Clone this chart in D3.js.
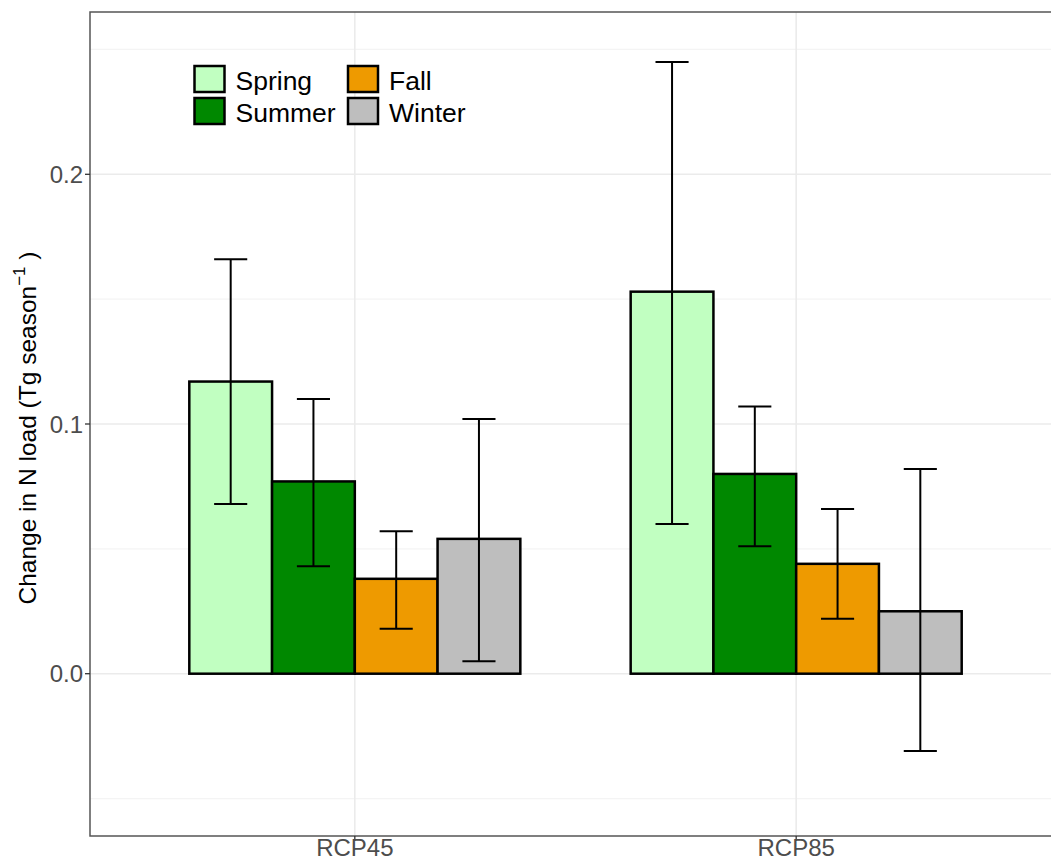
<!DOCTYPE html>
<html><head><meta charset="utf-8">
<script src="https://cdn.jsdelivr.net/npm/d3@7"></script>
<style>body{margin:0;background:#fff}svg{display:block;font-family:"Liberation Sans",Arial,sans-serif}</style>
</head><body><svg id="c" width="1051" height="863"></svg>
<script>
const scenarios = ["RCP45", "RCP85"];
const seasons = ["Spring", "Summer", "Fall", "Winter"];
const colors = ["#c1ffc1", "#008800", "#ee9a00", "#bebebe"];
const means = { RCP45: [0.117, 0.077, 0.038, 0.054], RCP85: [0.153, 0.080, 0.044, 0.025] };
const lows  = { RCP45: [0.068, 0.043, 0.018, 0.005], RCP85: [0.060, 0.051, 0.022, -0.031] };
const highs = { RCP45: [0.166, 0.110, 0.057, 0.102], RCP85: [0.245, 0.107, 0.066, 0.082] };
const yTicks = [0.0, 0.1, 0.2];
const yMinor = [-0.05, 0.05, 0.15, 0.25];

const svg = d3.select("#c");
const L = 90, T = 12, B = 836, R = 1061;
const x = d3.scaleLinear().domain([0.4, 2.6]).range([L, R]);
const y = d3.scaleLinear().domain([-0.065, 0.265]).range([B, T]);
const g = svg.append("g");
g.append("rect").attr("x", L).attr("y", T).attr("width", R - L).attr("height", B - T).attr("fill", "#fff");
// grid
g.selectAll(".mn").data(yMinor).join("line").attr("x1", L).attr("x2", R)
  .attr("y1", d => y(d)).attr("y2", d => y(d)).attr("stroke", "#f4f4f4").attr("stroke-width", 1.2);
g.selectAll(".mj").data(yTicks).join("line").attr("x1", L).attr("x2", R)
  .attr("y1", d => y(d)).attr("y2", d => y(d)).attr("stroke", "#ebebeb").attr("stroke-width", 1.6);
g.selectAll(".vx").data(scenarios).join("line").attr("y1", T).attr("y2", B)
  .attr("x1", (d, i) => x(i + 1)).attr("x2", (d, i) => x(i + 1)).attr("stroke", "#ebebeb").attr("stroke-width", 1.6);

const bw = 0.75 / 4;
scenarios.forEach((s, i) => {
  seasons.forEach((se, j) => {
    const cx = i + 1 - 0.375 + bw * (j + 0.5);
    const v = means[s][j];
    g.append("rect").attr("x", x(cx - bw / 2)).attr("width", x(cx + bw / 2) - x(cx - bw / 2))
      .attr("y", y(Math.max(v, 0))).attr("height", Math.abs(y(v) - y(0)))
      .attr("fill", colors[j]).attr("stroke", "#000").attr("stroke-width", 2.5);
  });
});
scenarios.forEach((s, i) => {
  seasons.forEach((se, j) => {
    const cx = i + 1 - 0.375 + bw * (j + 0.5);
    const hw = bw * 0.2;
    const lo = lows[s][j], hi = highs[s][j];
    const eg = g.append("g").attr("stroke", "#000").attr("stroke-width", 2);
    eg.append("line").attr("x1", x(cx)).attr("x2", x(cx)).attr("y1", y(lo)).attr("y2", y(hi));
    eg.append("line").attr("x1", x(cx - hw)).attr("x2", x(cx + hw)).attr("y1", y(lo)).attr("y2", y(lo));
    eg.append("line").attr("x1", x(cx - hw)).attr("x2", x(cx + hw)).attr("y1", y(hi)).attr("y2", y(hi));
  });
});
// border
g.append("rect").attr("x", L).attr("y", T).attr("width", R - L).attr("height", B - T)
  .attr("fill", "none").attr("stroke", "#555").attr("stroke-width", 1.5);

// y axis ticks
g.selectAll(".yt").data(yTicks).join("line").attr("x1", L - 5).attr("x2", L)
  .attr("y1", d => y(d)).attr("y2", d => y(d)).attr("stroke", "#333").attr("stroke-width", 1.3);
g.selectAll(".yl").data(yTicks).join("text").attr("x", 83).attr("y", d => y(d)).attr("dy", "0.36em")
  .attr("text-anchor", "end").attr("font-size", 24).attr("fill", "#4d4d4d").text(d => d.toFixed(1));
// x axis ticks
g.selectAll(".xt").data(scenarios).join("line").attr("y1", B).attr("y2", B + 5)
  .attr("x1", (d, i) => x(i + 1)).attr("x2", (d, i) => x(i + 1)).attr("stroke", "#333").attr("stroke-width", 1.3);
g.selectAll(".xl").data(scenarios).join("text").attr("x", (d, i) => x(i + 1)).attr("y", 856)
  .attr("text-anchor", "middle").attr("font-size", 24).attr("fill", "#4d4d4d").text(d => d);

// y title
const yt = svg.append("text").attr("transform", "translate(36,428) rotate(-90)")
  .attr("text-anchor", "middle").attr("font-size", 24.5).attr("fill", "#000");
yt.append("tspan").text("Change in N load (Tg season");
yt.append("tspan").attr("dy", -11).attr("font-size", 17).text("\u22121");
yt.append("tspan").attr("dy", 11).text(" )");

// legend
const leg = svg.append("g");
seasons.forEach((se, j) => {
  const col = Math.floor(j / 2), row = j % 2;
  const lx = 194.5 + col * 153.5, ly = 66 + row * 32;
  leg.append("rect").attr("x", lx).attr("y", ly).attr("width", 30).attr("height", 26)
    .attr("fill", colors[j]).attr("stroke", "#000").attr("stroke-width", 2.5);
  leg.append("text").attr("x", lx + 41).attr("y", ly + 23.5)
    .attr("font-size", 26.5).attr("fill", "#000").text(se);
});
</script></body></html>
